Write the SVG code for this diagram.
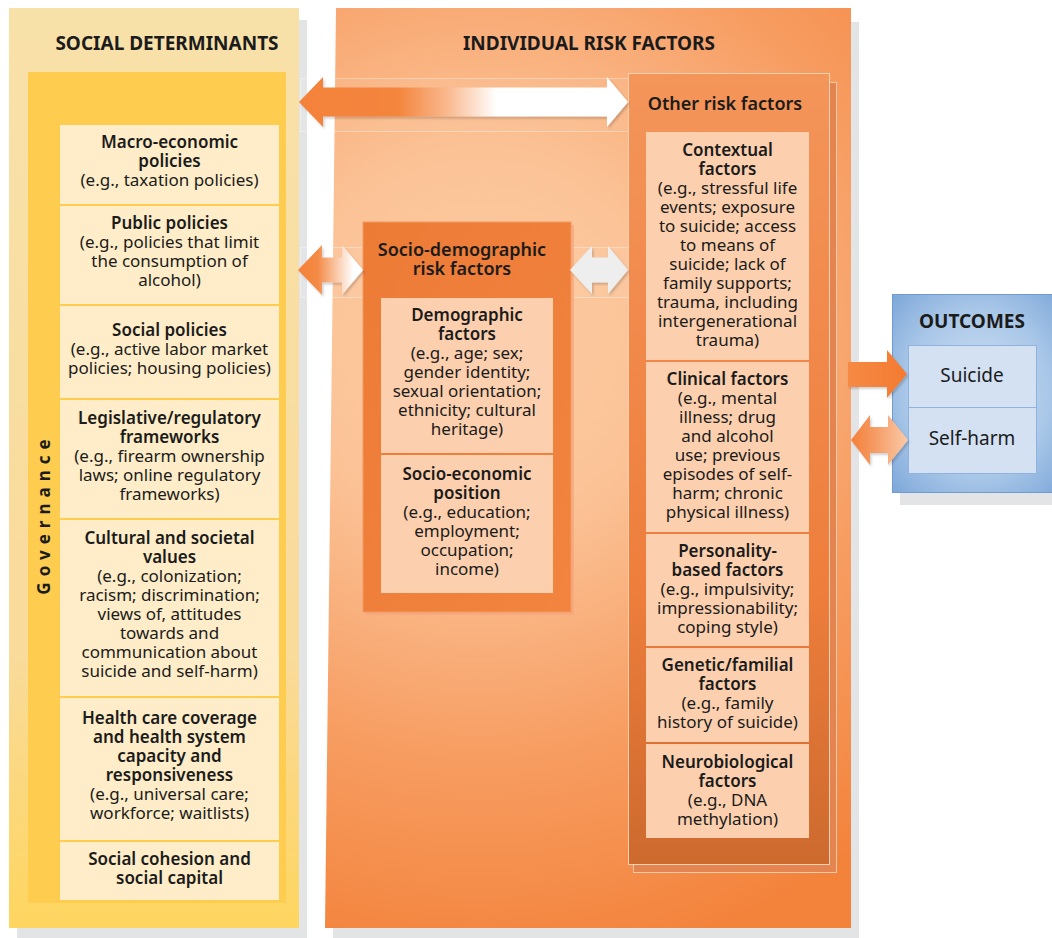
<svg xmlns="http://www.w3.org/2000/svg" width="1052" height="938" viewBox="0 0 1052 938">
<defs>
<style>
.h{font-family:"Noto Sans","Open Sans",sans-serif;font-weight:bold;font-size:19px;fill:#1b1b1b;text-anchor:middle}
.st{font-family:"Noto Sans","Open Sans",sans-serif;font-weight:600;font-size:18px;fill:#1b1b1b;text-anchor:middle}
.t{font-family:"Noto Sans","Open Sans",sans-serif;font-weight:600;font-size:17px;fill:#1b1b1b;text-anchor:middle}
.g{font-family:"Noto Sans","Open Sans",sans-serif;font-weight:bold;font-size:17px;fill:#1b1b1b;text-anchor:middle}
.b{font-family:"Noto Sans","Open Sans",sans-serif;font-size:17px;fill:#1b1b1b;text-anchor:middle}
.o{font-family:"Noto Sans","Open Sans",sans-serif;font-size:19px;fill:#1b1b1b;text-anchor:middle}
.shadow{fill:#e3e4e6}
.ycell{fill:#feedc8}
.pcell{fill:#fcd0ae}
.bcell{fill:#d3e1f3;stroke:#8fb2df;stroke-width:1}
.band{fill:#ffffff;fill-opacity:0.06;stroke:#ffffff;stroke-opacity:0.35;stroke-width:1}
</style>
<linearGradient id="gSoc" x1="0" y1="0" x2="0" y2="1">
<stop offset="0" stop-color="#f8e1a9"/><stop offset="0.7" stop-color="#f9db9b"/><stop offset="1" stop-color="#fed55f"/>
</linearGradient>
<radialGradient id="gInd" gradientUnits="userSpaceOnUse" cx="480" cy="340" r="640">
<stop offset="0" stop-color="#fdcba3"/><stop offset="0.3" stop-color="#fbc296"/><stop offset="0.65" stop-color="#f79d62"/><stop offset="1" stop-color="#f3823a"/>
</radialGradient>
<linearGradient id="gOther" x1="0" y1="0" x2="0" y2="1">
<stop offset="0" stop-color="#f4955a"/><stop offset="0.65" stop-color="#ee7e3c"/><stop offset="1" stop-color="#cd6a2e"/>
</linearGradient>
<linearGradient id="gSoDem" x1="0" y1="0" x2="1" y2="1">
<stop offset="0" stop-color="#ec7b36"/><stop offset="1" stop-color="#f2843f"/>
</linearGradient>
<radialGradient id="gOut" cx="0.5" cy="0.5" r="0.7">
<stop offset="0" stop-color="#d2e2f4"/><stop offset="0.6" stop-color="#a9c7e8"/><stop offset="1" stop-color="#7ea8d9"/>
</radialGradient>
<linearGradient id="gTopArrow" gradientUnits="userSpaceOnUse" x1="299" y1="0" x2="628" y2="0">
<stop offset="0" stop-color="#f4823a"/><stop offset="0.3" stop-color="#f4853d"/><stop offset="0.45" stop-color="#f9b88e"/><stop offset="0.6" stop-color="#ffffff"/><stop offset="1" stop-color="#ffffff"/>
</linearGradient>
<linearGradient id="gMidArrow" gradientUnits="userSpaceOnUse" x1="298" y1="0" x2="363" y2="0">
<stop offset="0" stop-color="#f4823a"/><stop offset="0.3" stop-color="#f48a45"/><stop offset="0.85" stop-color="#ffffff"/><stop offset="1" stop-color="#ffffff"/>
</linearGradient>
<linearGradient id="gSuicArrow" gradientUnits="userSpaceOnUse" x1="848" y1="0" x2="908" y2="0">
<stop offset="0" stop-color="#f58a45"/><stop offset="1" stop-color="#f47a30"/>
</linearGradient>
<linearGradient id="gSelfArrow" gradientUnits="userSpaceOnUse" x1="851" y1="0" x2="908" y2="0">
<stop offset="0" stop-color="#f47f3a"/><stop offset="0.4" stop-color="#f59a62"/><stop offset="1" stop-color="#fbcaa8"/>
</linearGradient>
<filter id="ds" x="-10%" y="-20%" width="130%" height="150%">
<feDropShadow dx="1.5" dy="2" stdDeviation="1.2" flood-color="#000000" flood-opacity="0.18"/>
</filter>
</defs>

<rect width="1052" height="938" fill="#ffffff"/>

<!-- Social determinants panel -->
<g id="social-determinants">
<rect class="shadow" x="17" y="20" width="290" height="918"/>
<rect x="9" y="8" width="290" height="920" fill="url(#gSoc)"/>
<text class="h" x="167" y="50">SOCIAL DETERMINANTS</text>
<rect x="28" y="72" width="258" height="831" fill="#fecd4f"/>
<text class="g" transform="translate(50,514) rotate(-90)" letter-spacing="6">Governance</text>
</g>

<g id="macro-economic-policies">
<rect class="ycell" x="60" y="125" width="219" height="79"/>
<text class="t" x="169.5" y="148">Macro-economic</text>
<text class="t" x="169.5" y="167">policies</text>
<text class="b" x="169.5" y="186">(e.g., taxation policies)</text>
</g>
<g id="public-policies">
<rect class="ycell" x="60" y="206" width="219" height="98"/>
<text class="t" x="169.5" y="229">Public policies</text>
<text class="b" x="169.5" y="248">(e.g., policies that limit</text>
<text class="b" x="169.5" y="267">the consumption of</text>
<text class="b" x="169.5" y="286">alcohol)</text>
</g>
<g id="social-policies">
<rect class="ycell" x="60" y="306" width="219" height="92"/>
<text class="t" x="169.5" y="336">Social policies</text>
<text class="b" x="169.5" y="355">(e.g., active labor market</text>
<text class="b" x="169.5" y="374">policies; housing policies)</text>
</g>
<g id="legislative-frameworks">
<rect class="ycell" x="60" y="400" width="219" height="118"/>
<text class="t" x="169.5" y="424">Legislative/regulatory</text>
<text class="t" x="169.5" y="443">frameworks</text>
<text class="b" x="169.5" y="462">(e.g., firearm ownership</text>
<text class="b" x="169.5" y="481">laws; online regulatory</text>
<text class="b" x="169.5" y="500">frameworks)</text>
</g>
<g id="cultural-societal-values">
<rect class="ycell" x="60" y="520" width="219" height="176"/>
<text class="t" x="169.5" y="544">Cultural and societal</text>
<text class="t" x="169.5" y="563">values</text>
<text class="b" x="169.5" y="582">(e.g., colonization;</text>
<text class="b" x="169.5" y="601">racism; discrimination;</text>
<text class="b" x="169.5" y="620">views of, attitudes</text>
<text class="b" x="169.5" y="639">towards and</text>
<text class="b" x="169.5" y="658">communication about</text>
<text class="b" x="169.5" y="677">suicide and self-harm)</text>
</g>
<g id="health-care-coverage">
<rect class="ycell" x="60" y="698" width="219" height="142"/>
<text class="t" x="169.5" y="724">Health care coverage</text>
<text class="t" x="169.5" y="743">and health system</text>
<text class="t" x="169.5" y="762">capacity and</text>
<text class="t" x="169.5" y="781">responsiveness</text>
<text class="b" x="169.5" y="800">(e.g., universal care;</text>
<text class="b" x="169.5" y="819">workforce; waitlists)</text>
</g>
<g id="social-cohesion">
<rect class="ycell" x="60" y="842" width="219" height="58"/>
<text class="t" x="169.5" y="865">Social cohesion and</text>
<text class="t" x="169.5" y="884">social capital</text>
</g>

<!-- Individual risk factors panel -->
<g id="individual-risk-factors">
<polygon class="shadow" points="344,22 859,22 859,938 333,938"/>
<polygon points="336,8 851,8 851,928 325,928" fill="url(#gInd)"/>
<text class="h" x="589" y="50">INDIVIDUAL RISK FACTORS</text>
<rect class="band" x="300.5" y="78.5" width="328" height="53"/>
<rect class="band" x="300.5" y="247.5" width="328" height="50"/>
</g>

<g id="socio-demographic-risk-factors">
<rect x="366" y="225" width="208" height="390" fill="#f3a57a" opacity="0.7"/>
<rect x="363" y="222" width="208" height="390" fill="url(#gSoDem)" stroke="#f49a63" stroke-width="1"/>
<text class="st" x="462" y="256">Socio-demographic</text>
<text class="st" x="462" y="275">risk factors</text>
</g>
<g id="demographic-factors">
<rect class="pcell" x="381" y="298" width="172" height="155"/>
<text class="t" x="467" y="321">Demographic</text>
<text class="t" x="467" y="340">factors</text>
<text class="b" x="467" y="359">(e.g., age; sex;</text>
<text class="b" x="467" y="378">gender identity;</text>
<text class="b" x="467" y="397">sexual orientation;</text>
<text class="b" x="467" y="416">ethnicity; cultural</text>
<text class="b" x="467" y="435">heritage)</text>
</g>
<g id="socio-economic-position">
<rect class="pcell" x="381" y="455" width="172" height="138"/>
<text class="t" x="467" y="480">Socio-economic</text>
<text class="t" x="467" y="499">position</text>
<text class="b" x="467" y="518">(e.g., education;</text>
<text class="b" x="467" y="537">employment;</text>
<text class="b" x="467" y="556">occupation;</text>
<text class="b" x="467" y="575">income)</text>
</g>

<g id="other-risk-factors">
<rect x="633.5" y="82.5" width="203" height="790" fill="#e48450" stroke="#fbc9a5" stroke-width="1"/>
<rect x="628.5" y="73.5" width="201" height="791" fill="url(#gOther)" stroke="#fcd0b0" stroke-width="1"/>
<text class="st" x="725" y="110">Other risk factors</text>
</g>
<g id="contextual-factors">
<rect class="pcell" x="646" y="132" width="163" height="228"/>
<text class="t" x="727.5" y="156">Contextual</text>
<text class="t" x="727.5" y="175">factors</text>
<text class="b" x="727.5" y="194">(e.g., stressful life</text>
<text class="b" x="727.5" y="213">events; exposure</text>
<text class="b" x="727.5" y="232">to suicide; access</text>
<text class="b" x="727.5" y="251">to means of</text>
<text class="b" x="727.5" y="270">suicide; lack of</text>
<text class="b" x="727.5" y="289">family supports;</text>
<text class="b" x="727.5" y="308">trauma, including</text>
<text class="b" x="727.5" y="327">intergenerational</text>
<text class="b" x="727.5" y="346">trauma)</text>
</g>
<g id="clinical-factors">
<rect class="pcell" x="646" y="362" width="163" height="170"/>
<text class="t" x="727.5" y="385">Clinical factors</text>
<text class="b" x="727.5" y="404">(e.g., mental</text>
<text class="b" x="727.5" y="423">illness; drug</text>
<text class="b" x="727.5" y="442">and alcohol</text>
<text class="b" x="727.5" y="461">use; previous</text>
<text class="b" x="727.5" y="480">episodes of self-</text>
<text class="b" x="727.5" y="499">harm; chronic</text>
<text class="b" x="727.5" y="518">physical illness)</text>
</g>
<g id="personality-based-factors">
<rect class="pcell" x="646" y="534" width="163" height="112"/>
<text class="t" x="727.5" y="557">Personality-</text>
<text class="t" x="727.5" y="576">based factors</text>
<text class="b" x="727.5" y="595">(e.g., impulsivity;</text>
<text class="b" x="727.5" y="614">impressionability;</text>
<text class="b" x="727.5" y="633">coping style)</text>
</g>
<g id="genetic-familial-factors">
<rect class="pcell" x="646" y="648" width="163" height="94"/>
<text class="t" x="727.5" y="671">Genetic/familial</text>
<text class="t" x="727.5" y="690">factors</text>
<text class="b" x="727.5" y="709">(e.g., family</text>
<text class="b" x="727.5" y="728">history of suicide)</text>
</g>
<g id="neurobiological-factors">
<rect class="pcell" x="646" y="744" width="163" height="94"/>
<text class="t" x="727.5" y="768">Neurobiological</text>
<text class="t" x="727.5" y="787">factors</text>
<text class="b" x="727.5" y="806">(e.g., DNA</text>
<text class="b" x="727.5" y="825">methylation)</text>
</g>

<!-- Outcomes -->
<g id="outcomes">
<rect class="shadow" x="900" y="302" width="152" height="203"/>
<rect x="892.5" y="294.5" width="170" height="198" fill="url(#gOut)" stroke="#6f9bd0" stroke-width="1"/>
<text class="h" x="972" y="328">OUTCOMES</text>
</g>
<g id="suicide">
<rect class="bcell" x="908.5" y="345.5" width="128" height="62"/>
<text class="o" x="972" y="382">Suicide</text>
</g>
<g id="self-harm">
<rect class="bcell" x="908.5" y="407.5" width="128" height="66"/>
<text class="o" x="972" y="445">Self-harm</text>
</g>

<!-- Connectors -->
<g id="connectors">
<path filter="url(#ds)" fill="url(#gTopArrow)" d="M299,102 L323,77 L323,87.5 L607,87.5 L607,77 L628,102 L607,127 L607,116.5 L323,116.5 L323,127 Z"/>
<path filter="url(#ds)" fill="url(#gMidArrow)" d="M298,270 L322,245 L322,257.5 L342,257.5 L342,245 L363,270 L342,295 L342,282.5 L322,282.5 L322,295 Z"/>
<path filter="url(#ds)" fill="#eeeeee" d="M570,270 L592,246 L592,257.5 L608,257.5 L608,246 L628,270 L608,294 L608,282.5 L592,282.5 L592,294 Z"/>
<path filter="url(#ds)" fill="url(#gSuicArrow)" d="M848,362 L887,362 L887,350 L907,374 L887,398 L887,387 L848,387 Z"/>
<path filter="url(#ds)" fill="url(#gSelfArrow)" d="M851,440 L870,415 L870,427 L888,427 L888,415 L908,440 L888,465 L888,453 L870,453 L870,465 Z"/>
</g>
</svg>
